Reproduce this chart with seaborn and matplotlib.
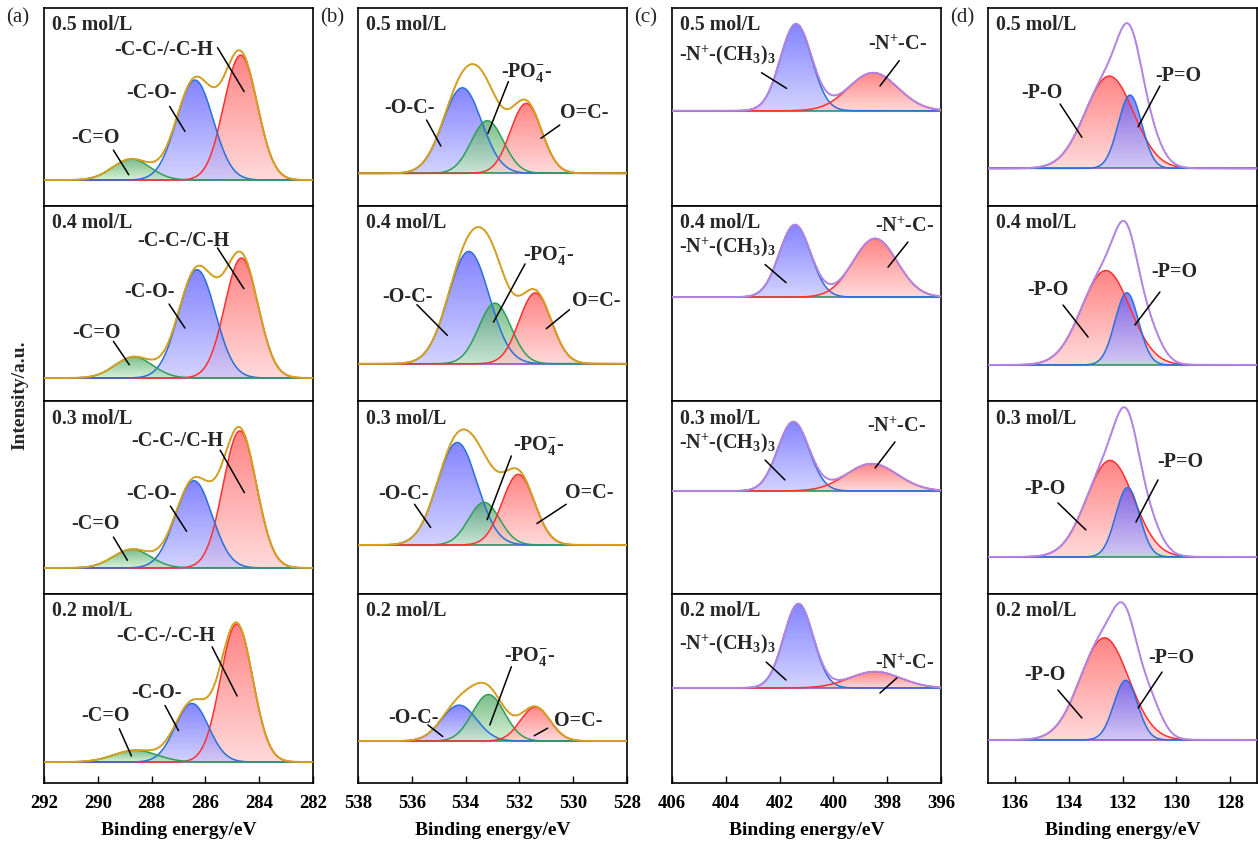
import numpy as np
import pandas as pd
import matplotlib
matplotlib.use("Agg")
import matplotlib.pyplot as plt
from matplotlib.patches import PathPatch
import seaborn as sns

sns.set_theme(style="white")
plt.rcParams["font.family"] = ["Liberation Serif", "DejaVu Serif"]
plt.rcParams["mathtext.fontset"] = "custom"
plt.rcParams["mathtext.rm"] = "Liberation Serif:bold"
plt.rcParams["mathtext.it"] = "Liberation Serif:bold"
plt.rcParams["mathtext.bf"] = "Liberation Serif:bold"
plt.rcParams["mathtext.default"] = "rm"

# ---------------- data ----------------
ROWS = ["0.5 mol/L", "0.4 mol/L", "0.3 mol/L", "0.2 mol/L"]

# panel (a) C 1s
A_XLIM = (292, 282)
A_TICKS = [292, 290, 288, 286, 284, 282]
a_base = [0.131, 0.118, 0.135, 0.111]
a_cc_center = [284.69, 284.66, 284.72, 284.84]
a_cc_height = [0.631, 0.615, 0.71, 0.73]
a_cc_sigma = [0.62, 0.62, 0.62, 0.60]
a_co_center = [286.39, 286.31, 286.43, 286.50]
a_co_height = [0.505, 0.555, 0.452, 0.31]
a_co_sigma = [0.68, 0.68, 0.68, 0.62]
a_ceo_center = [288.75, 288.66, 288.73, 288.60]
a_ceo_height = [0.106, 0.108, 0.096, 0.062]
a_ceo_sigma = [0.70, 0.70, 0.70, 0.80]
a_cc_text = ["-C-C-/-C-H", "-C-C-/C-H", "-C-C-/C-H", "-C-C-/-C-H"]
a_cc_txt_xy = [(287.54, 0.788), (286.82, 0.819), (287.06, 0.793), (287.46, 0.778)]
a_cc_line = [((285.55, 0.80), (284.56, 0.578)), ((285.55, 0.785), (284.57, 0.576)),
             ((285.45, 0.745), (284.55, 0.525)), ((285.75, 0.72), (284.82, 0.46))]
a_co_txt_xy = [(288.02, 0.572), (288.09, 0.557), (287.99, 0.518), (287.80, 0.476)]
a_co_line = [((287.33, 0.503), (286.76, 0.377)), ((287.35, 0.497), (286.76, 0.374)),
             ((287.30, 0.455), (286.70, 0.325)), ((287.50, 0.41), (287.00, 0.277))]
a_ceo_txt_xy = [(290.07, 0.343), (290.06, 0.349), (290.07, 0.363), (289.73, 0.354)]
a_ceo_line = [((289.42, 0.282), (288.85, 0.158)), ((289.42, 0.306), (288.83, 0.186)),
              ((289.42, 0.295), (288.90, 0.175)), ((289.20, 0.287), (288.75, 0.143))]

# panel (b) O 1s
B_XLIM = (538, 528)
B_TICKS = [538, 536, 534, 532, 530, 528]
b_base = [0.165, 0.191, 0.254, 0.222]
b_oc_center = [534.12, 533.88, 534.31, 534.24]
b_oc_height = [0.432, 0.576, 0.531, 0.19]
b_oc_sigma = [0.72, 0.76, 0.74, 0.65]
b_po_center = [533.19, 532.91, 533.31, 533.15]
b_po_height = [0.266, 0.311, 0.221, 0.246]
b_po_sigma = [0.60, 0.60, 0.58, 0.60]
b_oec_center = [531.75, 531.41, 532.04, 531.41]
b_oec_height = [0.353, 0.363, 0.366, 0.18]
b_oec_sigma = [0.58, 0.60, 0.60, 0.55]
b_oc_txt_xy = [(536.10, 0.493), (536.17, 0.532), (536.29, 0.518), (535.92, 0.344)]
b_oc_line = [((535.45, 0.434), (534.92, 0.303)), ((535.81, 0.494), (534.68, 0.337)),
             ((535.90, 0.465), (535.30, 0.345)), ((535.40, 0.307), (534.85, 0.246))]
b_po_txt_xy = [(531.72, 0.673), (530.90, 0.747), (531.30, 0.772), (531.60, 0.667)]
b_po_line = [((532.41, 0.628), (533.17, 0.367)), ((531.79, 0.703), (532.96, 0.405)),
             ((532.30, 0.715), (533.20, 0.385)), ((532.30, 0.615), (533.10, 0.307))]
b_oec_txt_xy = [(529.60, 0.468), (529.15, 0.514), (529.39, 0.523), (529.80, 0.33)]
b_oec_line = [((530.50, 0.409), (531.20, 0.342)), ((530.14, 0.468), (531.00, 0.371)),
              ((530.26, 0.465), (531.35, 0.365)), ((530.95, 0.29), (531.45, 0.25))]

# panel (c) N 1s
C_XLIM = (406, 396)
C_TICKS = [406, 404, 402, 400, 398, 396]
c_base = [0.481, 0.533, 0.534, 0.503]
c_n3_center = [401.39, 401.43, 401.49, 401.30]
c_n3_height = [0.438, 0.371, 0.358, 0.445]
c_n3_sigma = [0.58, 0.58, 0.58, 0.55]
c_nc_center = [398.52, 398.45, 398.57, 398.45]
c_nc_height = [0.192, 0.30, 0.141, 0.086]
c_nc_sigma = [0.92, 0.82, 0.95, 0.95]
c_n3_txt_xy = [(403.96, 0.763), (403.96, 0.789), (403.96, 0.782), (403.96, 0.735)]
c_n3_line = [((402.67, 0.673), (401.74, 0.594)), ((402.54, 0.70), (401.76, 0.607)),
             ((402.54, 0.694), (401.80, 0.591)), ((402.50, 0.64), (401.76, 0.545))]
c_nc_txt_xy = [(397.60, 0.813), (397.34, 0.892), (397.64, 0.865), (397.34, 0.63)]
c_nc_line = [((397.55, 0.734), (398.27, 0.606)), ((397.23, 0.815), (397.97, 0.686)),
             ((397.71, 0.788), (398.45, 0.653)), ((397.64, 0.556), (398.27, 0.476))]

# panel (d) P 2p
D_XLIM = (137, 127)
D_TICKS = [136, 134, 132, 130, 128]
d_base = [0.19, 0.185, 0.192, 0.228]
d_po_center = [132.49, 132.62, 132.46, 132.67]
d_po_height = [0.466, 0.484, 0.50, 0.54]
d_po_sigma = [0.90, 0.90, 0.88, 0.90]
d_peo_center = [131.72, 131.84, 131.81, 131.88]
d_peo_height = [0.37, 0.37, 0.36, 0.315]
d_peo_sigma = [0.44, 0.44, 0.44, 0.44]
d_rest_center = [131.0, 131.0, 131.0, 131.0]      # un-assigned intensity in the envelope
d_rest_height = [0.10, 0.12, 0.10, 0.15]
d_rest_sigma = [0.45, 0.45, 0.45, 0.45]
d_po_txt_xy = [(134.99, 0.569), (134.77, 0.569), (134.88, 0.544), (134.88, 0.571)]
d_po_line = [((134.32, 0.515), (133.51, 0.347)), ((134.21, 0.492), (133.28, 0.328)),
             ((134.40, 0.472), (133.36, 0.332)), ((134.40, 0.492), (133.51, 0.344))]
d_peo_txt_xy = [(129.94, 0.657), (130.06, 0.662), (129.85, 0.684), (130.19, 0.661)]
d_peo_line = [((130.61, 0.606), (131.42, 0.40)), ((130.61, 0.559), (131.54, 0.39)),
              ((130.68, 0.591), (131.50, 0.373)), ((130.53, 0.587), (131.42, 0.397))]

# ---------------- styles ----------------
RED = dict(top=(1.0, 0.33, 0.33), bot=(1.0, 0.80, 0.80), edge="#ff3030")
BLUE = dict(top=(0.33, 0.33, 1.0), bot=(0.76, 0.76, 1.0), edge="#2a6fdc")
GREEN = dict(top=(0.28, 0.64, 0.36), bot=(0.78, 0.93, 0.78), edge="#2e9e5a")
GOLD = "#d4a020"
PURPLE = "#b384e6"

columns = [
    dict(xlim=A_XLIM, ticks=A_TICKS, base=a_base, env=GOLD, label="(a)",
         comps=[(a_cc_center, a_cc_height, a_cc_sigma, RED, a_cc_text, a_cc_txt_xy, a_cc_line),
                (a_co_center, a_co_height, a_co_sigma, BLUE, ["-C-O-"] * 4, a_co_txt_xy, a_co_line),
                (a_ceo_center, a_ceo_height, a_ceo_sigma, GREEN, ["-C=O"] * 4, a_ceo_txt_xy, a_ceo_line)],
         rest=None),
    dict(xlim=B_XLIM, ticks=B_TICKS, base=b_base, env=GOLD, label="(b)",
         comps=[(b_oc_center, b_oc_height, b_oc_sigma, BLUE, ["-O-C-"] * 4, b_oc_txt_xy, b_oc_line),
                (b_po_center, b_po_height, b_po_sigma, GREEN, ["-PO$_{4}^{-}$-"] * 4, b_po_txt_xy, b_po_line),
                (b_oec_center, b_oec_height, b_oec_sigma, RED, ["O=C-"] * 4, b_oec_txt_xy, b_oec_line)],
         rest=None),
    dict(xlim=C_XLIM, ticks=C_TICKS, base=c_base, env=PURPLE, label="(c)",
         comps=[(c_n3_center, c_n3_height, c_n3_sigma, BLUE, ["-N$^{+}$-(CH$_{3}$)$_{3}$"] * 4, c_n3_txt_xy, c_n3_line),
                (c_nc_center, c_nc_height, c_nc_sigma, RED, ["-N$^{+}$-C-"] * 4, c_nc_txt_xy, c_nc_line)],
         rest=None),
    dict(xlim=D_XLIM, ticks=D_TICKS, base=d_base, env=PURPLE, label="(d)",
         comps=[(d_po_center, d_po_height, d_po_sigma, RED, ["-P-O"] * 4, d_po_txt_xy, d_po_line),
                (d_peo_center, d_peo_height, d_peo_sigma, BLUE, ["-P=O"] * 4, d_peo_txt_xy, d_peo_line)],
         rest=(d_rest_center, d_rest_height, d_rest_sigma)),
]

W, H = 1258, 841
fig = plt.figure(figsize=(W / 100, H / 100), dpi=100)
col_left = [44, 358, 672, 988]
col_w = 269
row_edges = [8, 206, 401, 594, 783]


def gauss(x, c, h, s):
    return h * np.exp(-((x - c) ** 2) / (2 * s ** 2))


def gradient_fill(ax, x, ylow, yhigh, style, alpha, z):
    poly = ax.fill_between(x, ylow, yhigh, color="none", lw=0)
    path = poly.get_paths()[0]
    patch = PathPatch(path, transform=ax.transData, facecolor="none", edgecolor="none")
    ax.add_patch(patch)
    n = 256
    g = np.linspace(0, 1, n)
    img = np.zeros((n, 1, 4))
    for i in range(3):
        img[:, 0, i] = style["bot"][i] + (style["top"][i] - style["bot"][i]) * g
    img[:, 0, 3] = alpha
    im = ax.imshow(img, extent=[x.min(), x.max(), ylow, yhigh.max()], origin="lower",
                   aspect="auto", zorder=z, interpolation="bilinear")
    im.set_clip_path(patch)
    poly.remove()


tick_font = dict(family="Liberation Serif", weight="bold", size=13.5)

for ci, col in enumerate(columns):
    lo, hi = min(col["xlim"]), max(col["xlim"])
    E = np.linspace(lo, hi, 800)
    for ri, row in enumerate(ROWS):
        top_px, bot_px = row_edges[ri], row_edges[ri + 1]
        rh = bot_px - top_px
        ax = fig.add_axes([col_left[ci] / W, 1 - bot_px / H, col_w / W, rh / H])
        base = col["base"][ri]
        env = np.zeros_like(E)
        for k, (cen, hgt, sig, sty, txts, txy, lines) in enumerate(col["comps"]):
            y = gauss(E, cen[ri], hgt[ri], sig[ri])
            env += y
            gradient_fill(ax, E, base, base + y, sty, 0.72, 2 + k)
            sns.lineplot(x=E, y=base + y, ax=ax, color=sty["edge"], lw=1.1, zorder=5, legend=False)
            tx, ty = txy[ri]
            ax.text(tx, ty, txts[ri], ha="center", va="center", fontsize=14.5,
                    fontweight="bold", family="Liberation Serif", zorder=8)
            (x0, y0), (x1, y1) = lines[ri]
            ax.plot([x0, x1], [y0, y1], color="black", lw=1.1, zorder=8)
        if col["rest"] is not None:
            rc, rhh, rs = col["rest"]
            env += gauss(E, rc[ri], rhh[ri], rs[ri])
        # baseline
        ax.plot(E, np.full_like(E, base), color="#3aa06a", lw=1.4, zorder=4)
        ax.plot(E, np.full_like(E, base), color="#a070d0", lw=0.8, zorder=4)
        # raw data (dotted) and envelope
        ax.plot(E, base + env, color="0.35", lw=1.0, ls=(0, (1, 2)), zorder=6)
        sns.lineplot(x=E, y=base + env, ax=ax, color=col["env"], lw=1.4, zorder=7, legend=False)

        ax.text(0.03, 1 - 17.5 / rh, row, transform=ax.transAxes, ha="left", va="center",
                fontsize=14.3, fontweight="bold", family="Liberation Serif", zorder=9)
        ax.set_xlim(col["xlim"])
        ax.set_ylim(0, 1)
        ax.set_yticks([])
        ax.set_ylabel("")
        for sp in ax.spines.values():
            sp.set_color("black")
            sp.set_linewidth(1.2)
        if ri == len(ROWS) - 1:
            ax.set_xticks(col["ticks"])
            ax.set_xticklabels([str(t) for t in col["ticks"]], fontdict=tick_font)
            ax.tick_params(axis="x", direction="in", length=5, width=1, bottom=True,
                           top=False, pad=9, colors="black")
            ax.set_xlabel("Binding energy/eV", fontsize=14, fontweight="bold",
                          family="Liberation Serif", labelpad=7, color="black")
        else:
            ax.set_xticks([])
            ax.set_xlabel("")
    fig.text((col_left[ci] - 26) / W, 1 - 18 / H, col["label"], ha="center", va="center",
             fontsize=15, family="Liberation Serif")

fig.text(20 / W, 1 - 395 / H, "Intensity/a.u.", rotation=90, ha="center", va="center",
         fontsize=14, fontweight="bold", family="Liberation Serif")

fig.savefig("out.png", dpi=100)
